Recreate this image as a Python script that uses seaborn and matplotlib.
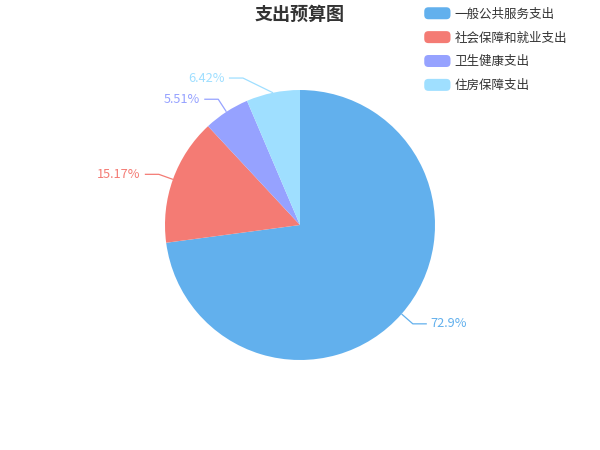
import numpy as np
import matplotlib
matplotlib.use('Agg')
import matplotlib.pyplot as plt
import seaborn as sns
from matplotlib.patches import FancyBboxPatch, Wedge
from matplotlib.legend_handler import HandlerPatch

# data
categories = ['一般公共服务支出', '社会保障和就业支出', '卫生健康支出', '住房保障支出']
shares = [72.9, 15.17, 5.51, 6.42]
pct_labels = ['72.9%', '15.17%', '5.51%', '6.42%']
colors = ['#62b0ed', '#f47b74', '#96a2ff', '#9fdfff']

sns.set_theme(style='white')
plt.rcParams['font.family'] = ['Noto Sans CJK SC', 'DejaVu Sans']

W, H, R = 600, 450, 135.0
fig = plt.figure(figsize=(6, 4.5), dpi=100)
ax = fig.add_axes([0, 0, 1, 1])

wedges, _ = ax.pie(shares, colors=colors, startangle=90, counterclock=False,
                   radius=1, wedgeprops=dict(linewidth=0))
# pie() resets the limits, so set them afterwards
ax.set_xlim(-W / 2 / R, W / 2 / R)
ax.set_ylim(-H / 2 / R, H / 2 / R)
ax.set_aspect('equal')
ax.axis('off')

# leader lines: radial segment then horizontal segment (echarts style)
extra_shift = [0, 0, 0, -0.2]   # 6.42% label nudged left to avoid overlap
seg1, seg2 = 15 / R, 14 / R
for w, lab, col, dx in zip(wedges, pct_labels, colors, extra_shift):
    mid = np.deg2rad((w.theta1 + w.theta2) / 2)
    x0, y0 = np.cos(mid), np.sin(mid)
    x1, y1 = (1 + seg1) * x0 + dx, (1 + seg1) * y0
    side = 1 if x0 >= 0 else -1
    x2 = x1 + side * seg2
    ax.plot([x0, x1, x2], [y0, y1, y1], color=col, lw=0.9, solid_capstyle='butt')
    ax.text(x2 + side * 4 / R, y1, lab, color=col, fontsize=9.2,
            ha='left' if side > 0 else 'right', va='center')

fig.text(0.5, 1 - 14 / H, '支出预算图', ha='center', va='center',
         fontsize=13, fontweight='bold', color='#333333')


# rounded legend keys
def round_key(legend, orig_handle, xdescent, ydescent, width, height, fontsize):
    return FancyBboxPatch((-xdescent, -ydescent), width, height,
                          boxstyle='round,pad=0,rounding_size=3')


leg = fig.legend(wedges, categories, loc='upper left',
                 bbox_to_anchor=(413 / W, 1 + 4 / H), frameon=False,
                 fontsize=9, handlelength=2.1, handleheight=1.1,
                 handletextpad=0.3, labelspacing=0.85,
                 handler_map={Wedge: HandlerPatch(patch_func=round_key)})
for t in leg.get_texts():
    t.set_color('#333333')

fig.savefig('out.png', dpi=100)
